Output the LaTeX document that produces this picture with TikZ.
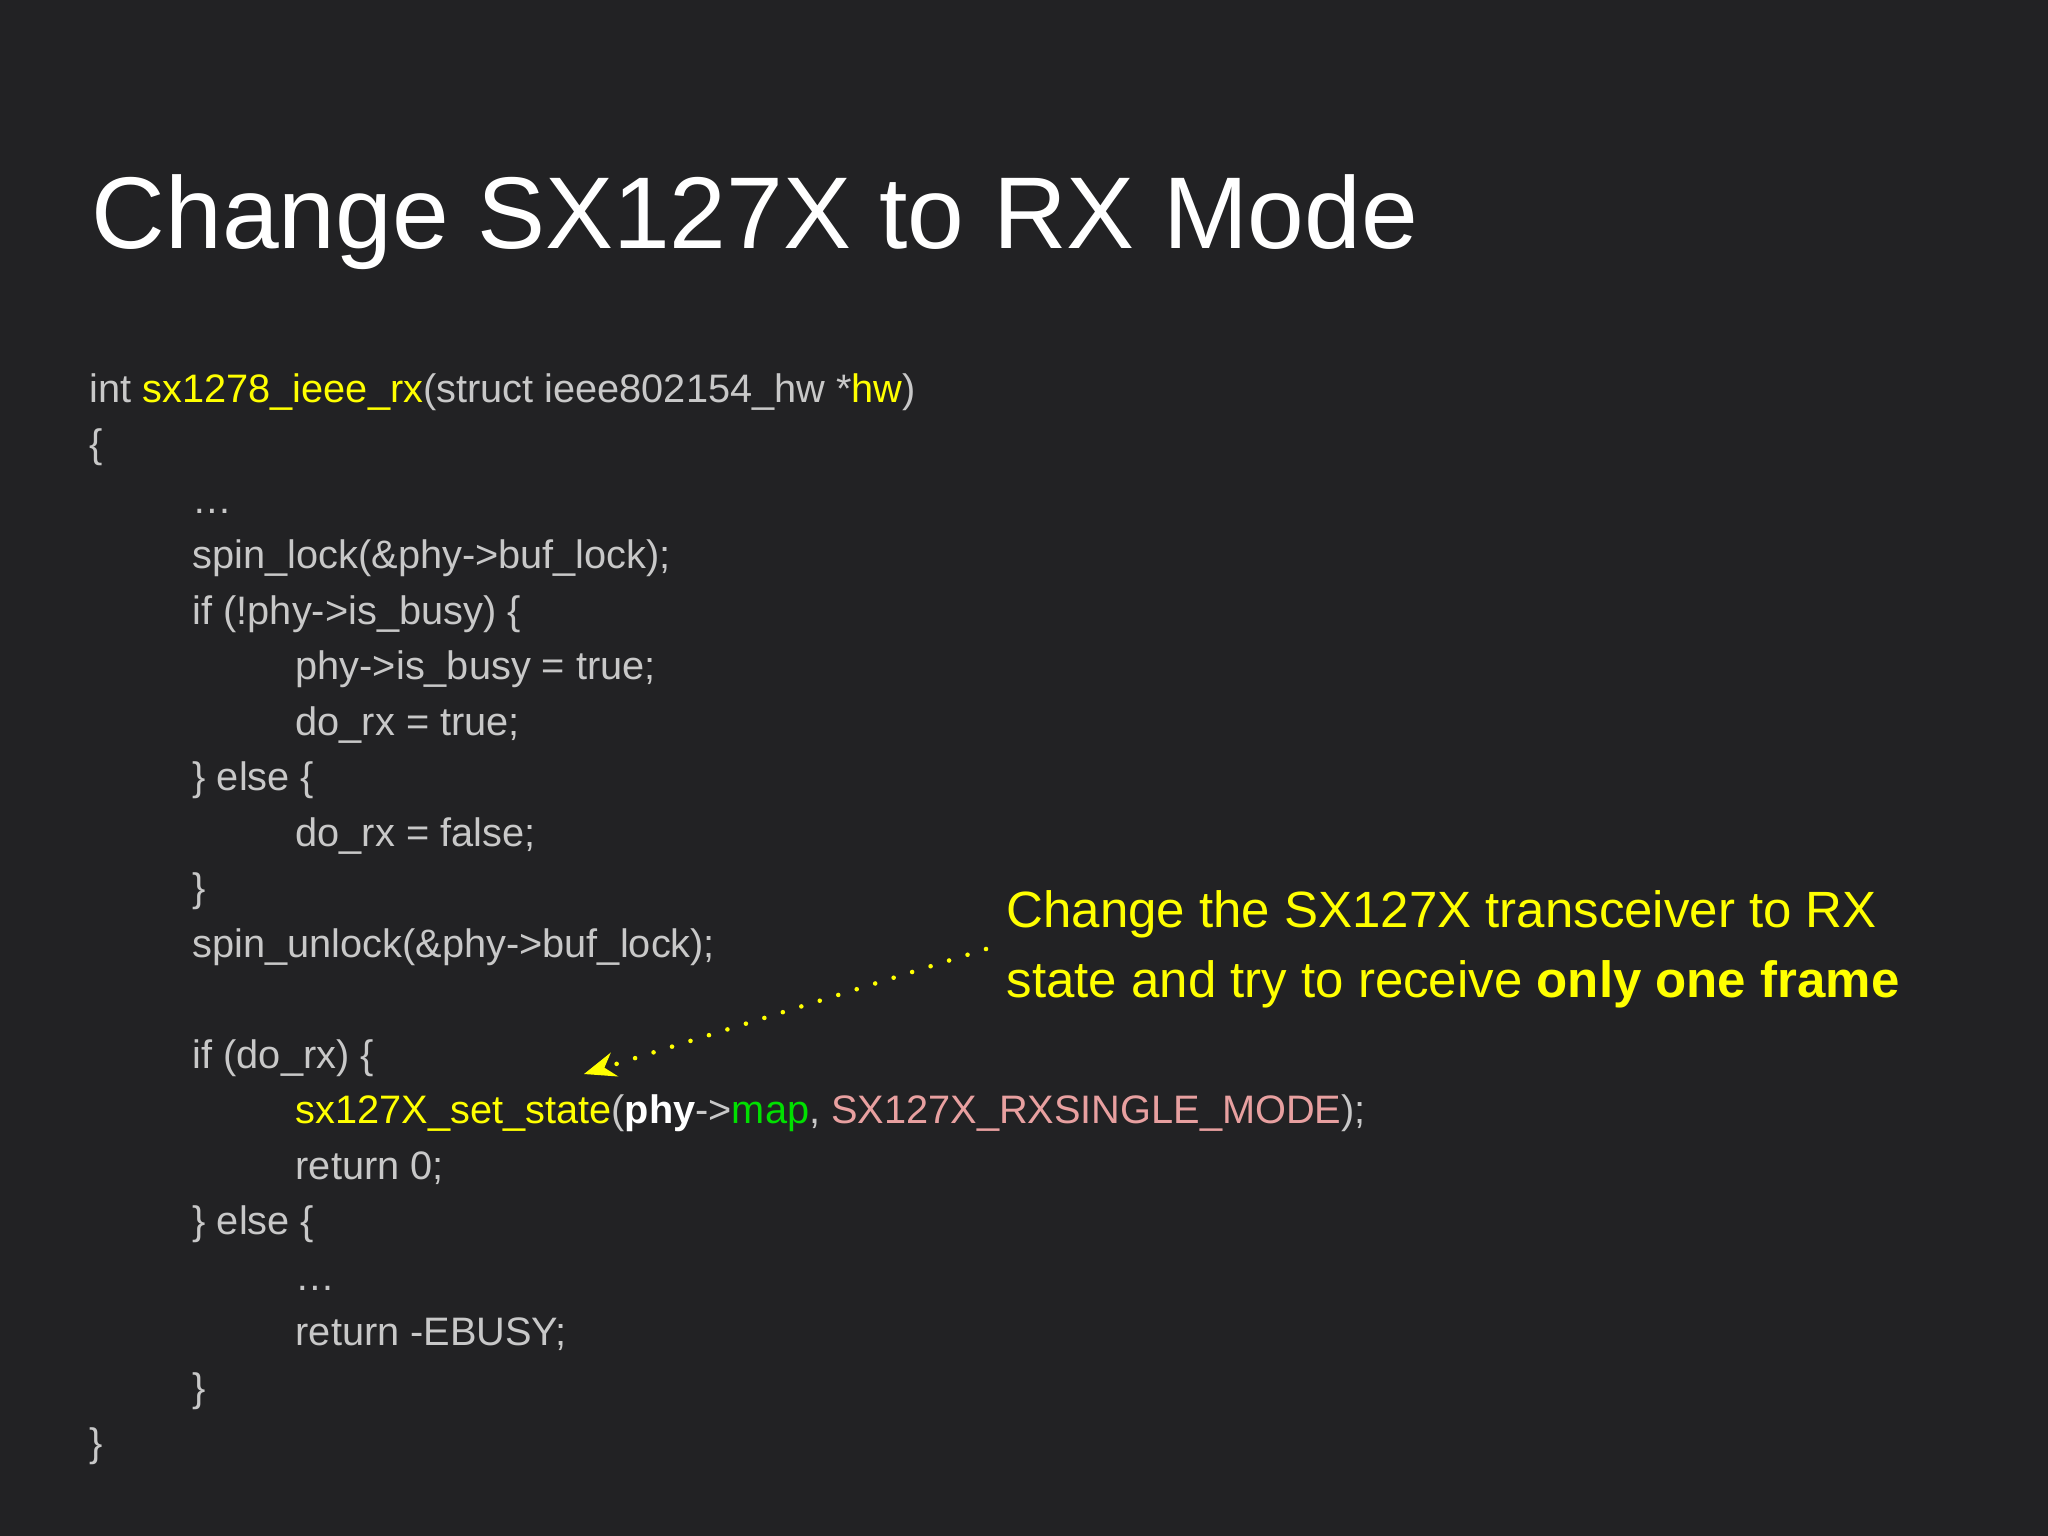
\documentclass[tikz,border=0pt]{standalone}
\usepackage{fontspec}
\setmainfont{Liberation Sans}
\usetikzlibrary{arrows.meta}
\definecolor{bg}{HTML}{222224}
\definecolor{code}{HTML}{C8C8C8}
\definecolor{yel}{HTML}{FFFF00}
\definecolor{grn}{HTML}{00E000}
\definecolor{pnk}{HTML}{E8A0A0}
\begin{document}
\begin{tikzpicture}[x=0.01cm,y=-0.01cm,
  ln/.style={anchor=base west,inner sep=0pt,text=code,font=\fontsize{11.3pt}{13pt}\selectfont},
  ttl/.style={anchor=base west,inner sep=0pt,text=white,font=\fontsize{29pt}{34pt}\selectfont},
  ann/.style={anchor=base west,inner sep=0pt,text=yel,font=\fontsize{14.5pt}{17pt}\selectfont}]
\fill[bg] (0,0) rectangle (2048,1536);
\useasboundingbox (0,0) rectangle (2048,1536);
\node[ttl] (title) at (91,248) {Change SX127X to RX Mode};
\def\a{89}\def\b{192}\def\c{295}
\node[ln] (l1) at (\a,402) {int \textcolor{yel}{sx1278\_ieee\_rx}(struct ieee802154\_hw *\textcolor{yel}{hw})};
\node[ln] (l2) at (\a,457.5) {\{};
\node[ln] (l3) at (\b,513) {…};
\node[ln] (l4) at (\b,568.5) {spin\_lock(\&phy->buf\_lock);};
\node[ln] (l5) at (\b,624) {if (!phy->is\_busy) \{};
\node[ln] (l6) at (\c,679.5) {phy->is\_busy = true;};
\node[ln] (l7) at (\c,735) {do\_rx = true;};
\node[ln] (l8) at (\b,790.5) {\} else \{};
\node[ln] (l9) at (\c,846) {do\_rx = false;};
\node[ln] (l10) at (\b,901.5) {\}};
\node[ln] (l11) at (\b,957) {spin\_unlock(\&phy->buf\_lock);};
\node[ln] (l13) at (\b,1068) {if (do\_rx) \{};
\node[ln] (l14) at (\c,1123.5) {\textcolor{yel}{sx127X\_set\_state}(\textcolor{white}{\textbf{phy}}->\textcolor{grn}{map}, \textcolor{pnk}{SX127X\_RXSINGLE\_MODE});};
\node[ln] (l15) at (\c,1179) {return 0;};
\node[ln] (l16) at (\b,1234.5) {\} else \{};
\node[ln] (l17) at (\c,1290) {…};
\node[ln] (l18) at (\c,1345.5) {return -EBUSY;};
\node[ln] (l19) at (\b,1401) {\}};
\node[ln] (l20) at (\a,1456.5) {\}};
\node[ann] (a1) at (1006,927) {Change the SX127X transceiver to RX};
\node[ann] (a2) at (1006,997) {state and try to receive \textbf{only one frame}};
\coordinate (s) at (986,949);
\coordinate (e) at (584,1074);
\draw[yel,line width=1.3pt,line cap=round,dash pattern=on 0pt off 5.5pt,-{Stealth[length=9pt,width=7pt]}] (s) -- (e);
\end{tikzpicture}
\end{document}
